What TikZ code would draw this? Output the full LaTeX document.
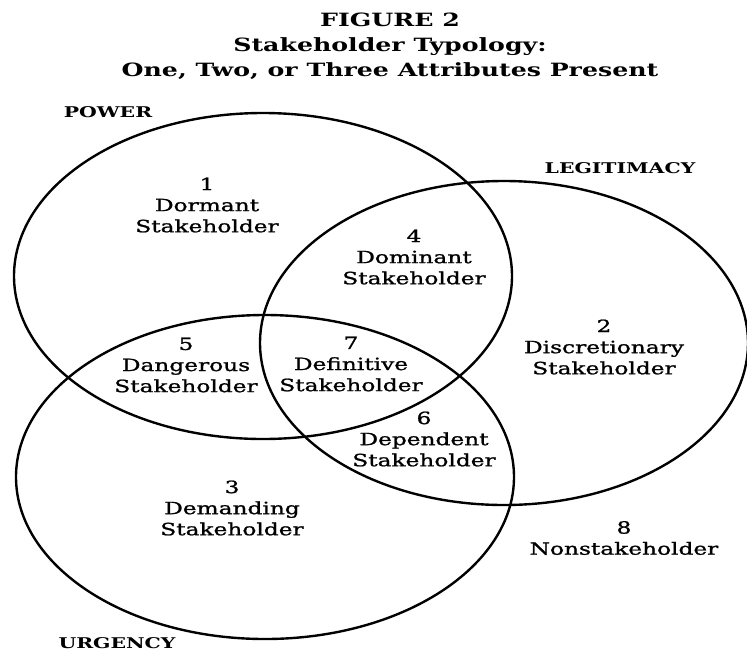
\documentclass[tikz,border=0pt]{standalone}
\usepackage{fontspec}
\setmainfont{DejaVu Serif}[FakeStretch=1.38, UprightFeatures={FakeBold=1.2}]
\usepackage{tikz}
\tikzstyle{insieme} = [line width=1.7pt]
\tikzstyle{classe} = [align=center, inner sep=0pt, font=\fontsize{12}{15}\selectfont]
\tikzstyle{attributo} = [inner sep=0pt, font=\fontsize{10.5}{12}\selectfont\bfseries]
\tikzstyle{titolo} = [align=center, inner sep=0pt, font=\fontsize{13}{17.8}\selectfont\bfseries]

\begin{document}
\begin{tikzpicture}
						\useasboundingbox (0,0) rectangle (18.675,-16.3);
						\node (titolo) at (9.75,-1.15) [titolo] {FIGURE 2\\Stakeholder Typology:\\One, Two, or Three Attributes Present};
						\draw[insieme] (6.575,-6.9) ellipse (6.225cm and 4.075cm);
						\draw[insieme] (12.6,-8.575) ellipse (6.1cm and 4.05cm);
						\draw[insieme] (6.625,-11.925) ellipse (6.225cm and 4.05cm);
						\node (power) at (2.7,-2.8) [attributo] {POWER};
						\node (legitimacy) at (15.5,-4.2) [attributo] {LEGITIMACY};
						\node (urgency) at (2.925,-16.075) [attributo] {URGENCY};
						\node (c1) at (5.175,-5.125) [classe] {1\\Dormant\\Stakeholder};
						\node (c2) at (15.1,-8.675) [classe] {2\\Discretionary\\Stakeholder};
						\node (c3) at (5.8,-12.7) [classe] {3\\Demanding\\Stakeholder};
						\node (c4) at (10.35,-6.425) [classe] {4\\Dominant\\Stakeholder};
						\node (c5) at (4.65,-9.125) [classe] {5\\Dangerous\\Stakeholder};
						\node (c6) at (10.6,-10.975) [classe] {6\\Dependent\\Stakeholder};
						\node (c7) at (8.775,-9.1) [classe] {7\\Definitive\\Stakeholder};
						\node (c8) at (15.6,-13.45) [classe] {8\\Nonstakeholder};
					\end{tikzpicture}
\end{document}
